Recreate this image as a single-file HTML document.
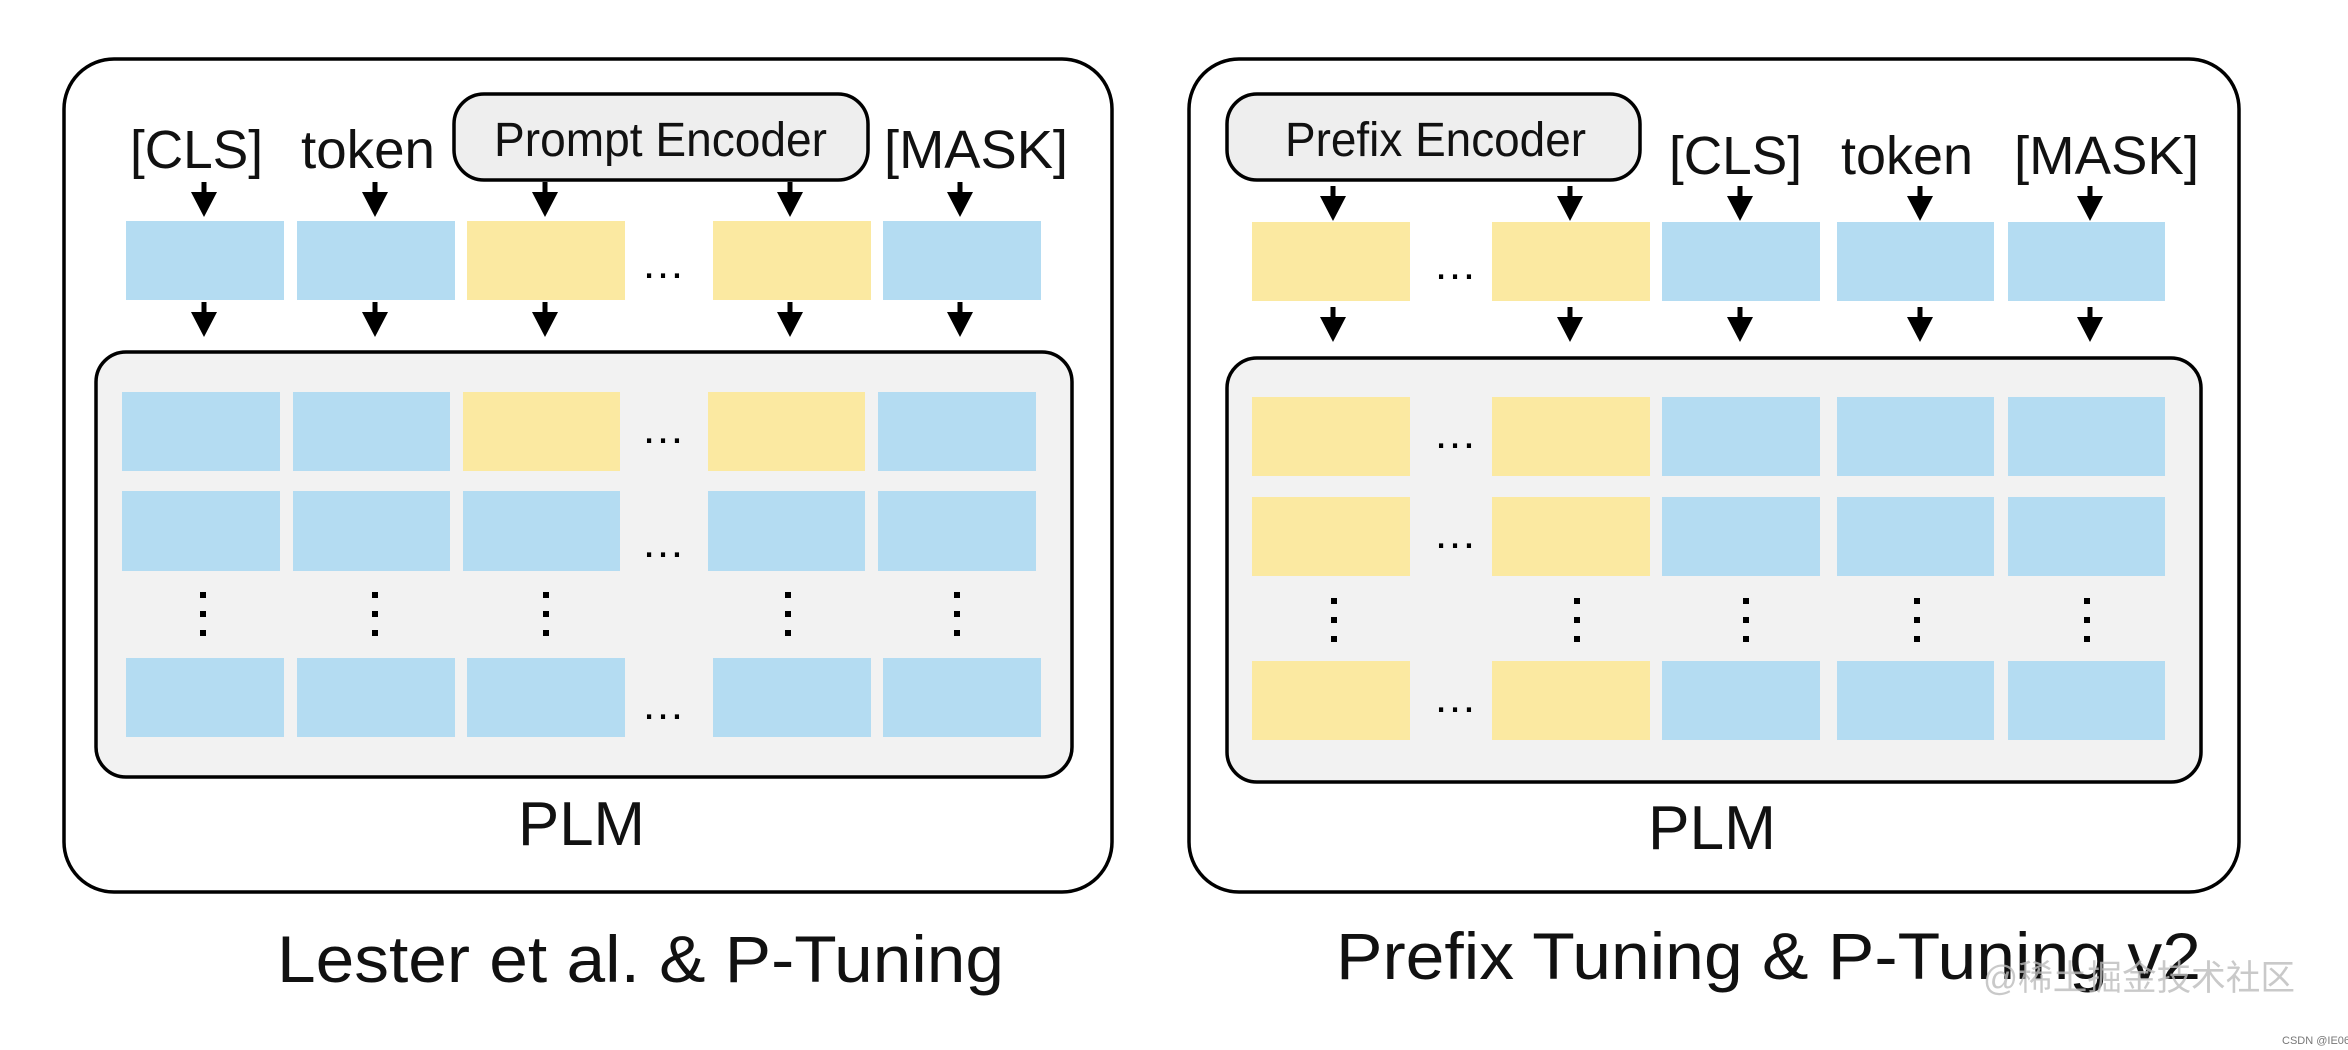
<!DOCTYPE html>
<html><head><meta charset="utf-8"><style>html,body{margin:0;padding:0;background:#fff}svg{display:block}</style></head>
<body>
<svg width="2348" height="1050" viewBox="0 0 2348 1050" xmlns="http://www.w3.org/2000/svg" font-family="'Liberation Sans', Arial, sans-serif">
<defs>
<g id="ar"><rect x="-2.5" y="0" width="5" height="12" fill="#000"/><polygon points="-13,10 13,10 0,35" fill="#000"/></g>
</defs>
<!-- LEFT PANEL -->
<rect x="64" y="59" width="1048" height="833" rx="50" fill="#fff" stroke="#000" stroke-width="3.5"/>
<rect x="454" y="94" width="414" height="86" rx="30" fill="#eeeeee" stroke="#000" stroke-width="3.5"/>
<text x="494" y="156" font-size="48" textLength="333" lengthAdjust="spacingAndGlyphs" fill="#111">Prompt Encoder</text>
<text x="130" y="168" font-size="54" textLength="133" lengthAdjust="spacingAndGlyphs" fill="#111">[CLS]</text>
<text x="301" y="168" font-size="54" textLength="134" lengthAdjust="spacingAndGlyphs" fill="#111">token</text>
<text x="884" y="168" font-size="54" textLength="184" lengthAdjust="spacingAndGlyphs" fill="#111">[MASK]</text>
<g fill="#b4dcf2"><rect x="126" y="221" width="158" height="79"/><rect x="297" y="221" width="158" height="79"/><rect x="713" y="221" width="158" height="79" fill="#fbe9a1"/><rect x="467" y="221" width="158" height="79" fill="#fbe9a1"/><rect x="883" y="221" width="158" height="79"/></g>
<text x="663" y="278" font-size="44" text-anchor="middle">…</text>
<use href="#ar" x="204" y="182"/><use href="#ar" x="375" y="182"/><use href="#ar" x="545" y="182"/><use href="#ar" x="790" y="182"/><use href="#ar" x="960" y="182"/>
<use href="#ar" x="204" y="302"/><use href="#ar" x="375" y="302"/><use href="#ar" x="545" y="302"/><use href="#ar" x="790" y="302"/><use href="#ar" x="960" y="302"/>
<rect x="96" y="352" width="976" height="425" rx="30" fill="#f2f2f2" stroke="#000" stroke-width="3.5"/>
<g fill="#b4dcf2">
<rect x="122" y="392" width="158" height="79"/><rect x="293" y="392" width="157" height="79"/><rect x="463" y="392" width="157" height="79" fill="#fbe9a1"/><rect x="708" y="392" width="157" height="79" fill="#fbe9a1"/><rect x="878" y="392" width="158" height="79"/>
<rect x="122" y="491" width="158" height="80"/><rect x="293" y="491" width="157" height="80"/><rect x="463" y="491" width="157" height="80"/><rect x="708" y="491" width="157" height="80"/><rect x="878" y="491" width="158" height="80"/>
<rect x="126" y="658" width="158" height="79"/><rect x="297" y="658" width="158" height="79"/><rect x="467" y="658" width="158" height="79"/><rect x="713" y="658" width="158" height="79"/><rect x="883" y="658" width="158" height="79"/>
</g>
<g font-size="44" text-anchor="middle"><text x="663" y="443">…</text><text x="663" y="557">…</text><text x="663" y="719">…</text></g>
<g fill="#000">
<g transform="translate(203,0)"><rect x="-3" y="592" width="6" height="6"/><rect x="-3" y="611" width="6" height="6"/><rect x="-3" y="630" width="6" height="6"/></g>
<g transform="translate(375,0)"><rect x="-3" y="592" width="6" height="6"/><rect x="-3" y="611" width="6" height="6"/><rect x="-3" y="630" width="6" height="6"/></g>
<g transform="translate(546,0)"><rect x="-3" y="592" width="6" height="6"/><rect x="-3" y="611" width="6" height="6"/><rect x="-3" y="630" width="6" height="6"/></g>
<g transform="translate(788,0)"><rect x="-3" y="592" width="6" height="6"/><rect x="-3" y="611" width="6" height="6"/><rect x="-3" y="630" width="6" height="6"/></g>
<g transform="translate(957,0)"><rect x="-3" y="592" width="6" height="6"/><rect x="-3" y="611" width="6" height="6"/><rect x="-3" y="630" width="6" height="6"/></g>
</g>
<text x="518" y="845" font-size="62" textLength="127" lengthAdjust="spacingAndGlyphs" fill="#111">PLM</text>
<text x="277" y="982" font-size="66" textLength="727" lengthAdjust="spacingAndGlyphs" fill="#111">Lester et al. &amp; P-Tuning</text>

<!-- RIGHT PANEL -->
<rect x="1189" y="59" width="1050" height="833" rx="50" fill="#fff" stroke="#000" stroke-width="3.5"/>
<rect x="1227" y="94" width="413" height="86" rx="30" fill="#eeeeee" stroke="#000" stroke-width="3.5"/>
<text x="1285" y="156" font-size="48" textLength="301" lengthAdjust="spacingAndGlyphs" fill="#111">Prefix Encoder</text>
<text x="1669" y="174" font-size="54" textLength="133" lengthAdjust="spacingAndGlyphs" fill="#111">[CLS]</text>
<text x="1841" y="174" font-size="54" textLength="132" lengthAdjust="spacingAndGlyphs" fill="#111">token</text>
<text x="2014" y="174" font-size="54" textLength="185" lengthAdjust="spacingAndGlyphs" fill="#111">[MASK]</text>
<g fill="#b4dcf2"><rect x="1252" y="222" width="158" height="79" fill="#fbe9a1"/><rect x="1492" y="222" width="158" height="79" fill="#fbe9a1"/><rect x="1662" y="222" width="158" height="79"/><rect x="1837" y="222" width="157" height="79"/><rect x="2008" y="222" width="157" height="79"/></g>
<text x="1455" y="279" font-size="44" text-anchor="middle">…</text>
<use href="#ar" x="1333" y="186"/><use href="#ar" x="1570" y="186"/><use href="#ar" x="1740" y="186"/><use href="#ar" x="1920" y="186"/><use href="#ar" x="2090" y="186"/>
<use href="#ar" x="1333" y="307"/><use href="#ar" x="1570" y="307"/><use href="#ar" x="1740" y="307"/><use href="#ar" x="1920" y="307"/><use href="#ar" x="2090" y="307"/>
<rect x="1227" y="358" width="974" height="424" rx="30" fill="#f2f2f2" stroke="#000" stroke-width="3.5"/>
<g fill="#b4dcf2">
<rect x="1252" y="397" width="158" height="79" fill="#fbe9a1"/><rect x="1492" y="397" width="158" height="79" fill="#fbe9a1"/><rect x="1662" y="397" width="158" height="79"/><rect x="1837" y="397" width="157" height="79"/><rect x="2008" y="397" width="157" height="79"/>
<rect x="1252" y="497" width="158" height="79" fill="#fbe9a1"/><rect x="1492" y="497" width="158" height="79" fill="#fbe9a1"/><rect x="1662" y="497" width="158" height="79"/><rect x="1837" y="497" width="157" height="79"/><rect x="2008" y="497" width="157" height="79"/>
<rect x="1252" y="661" width="158" height="79" fill="#fbe9a1"/><rect x="1492" y="661" width="158" height="79" fill="#fbe9a1"/><rect x="1662" y="661" width="158" height="79"/><rect x="1837" y="661" width="157" height="79"/><rect x="2008" y="661" width="157" height="79"/>
</g>
<g font-size="44" text-anchor="middle"><text x="1455" y="448">…</text><text x="1455" y="548">…</text><text x="1455" y="712">…</text></g>
<g fill="#000">
<g transform="translate(1334,0)"><rect x="-3" y="598" width="6" height="6"/><rect x="-3" y="617" width="6" height="6"/><rect x="-3" y="636" width="6" height="6"/></g>
<g transform="translate(1577,0)"><rect x="-3" y="598" width="6" height="6"/><rect x="-3" y="617" width="6" height="6"/><rect x="-3" y="636" width="6" height="6"/></g>
<g transform="translate(1746,0)"><rect x="-3" y="598" width="6" height="6"/><rect x="-3" y="617" width="6" height="6"/><rect x="-3" y="636" width="6" height="6"/></g>
<g transform="translate(1917,0)"><rect x="-3" y="598" width="6" height="6"/><rect x="-3" y="617" width="6" height="6"/><rect x="-3" y="636" width="6" height="6"/></g>
<g transform="translate(2087,0)"><rect x="-3" y="598" width="6" height="6"/><rect x="-3" y="617" width="6" height="6"/><rect x="-3" y="636" width="6" height="6"/></g>
</g>
<text x="1648" y="849" font-size="62" textLength="128" lengthAdjust="spacingAndGlyphs" fill="#111">PLM</text>
<text x="1336" y="979" font-size="66" textLength="865" lengthAdjust="spacingAndGlyphs" fill="#111">Prefix Tuning &amp; P-Tuning v2</text>
<text x="1983" y="990" font-size="35" textLength="312" lengthAdjust="spacingAndGlyphs" fill="#bbbbbb" fill-opacity="0.8" font-family="'Liberation Sans','Noto Sans CJK SC',sans-serif">@稀土掘金技术社区</text>
<text x="2282" y="1044" font-size="11" fill="#777">CSDN @IE06</text>
</svg>
</body></html>
